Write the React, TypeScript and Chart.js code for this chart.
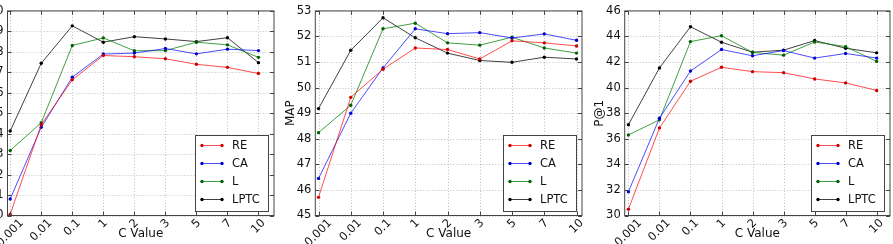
import React, { useEffect, useRef } from 'react';
import { Chart, registerables } from 'chart.js';

Chart.register(...registerables);

// Regularisation constant C on the x axis (equally spaced categories)
const cValues = ['0.001', '0.01', '0.1', '1', '2', '3', '5', '7', '10'];

const methodNames = ['RE', 'CA', 'L', 'LPTC'];
const methodLines = ['rgba(255,0,0,0.7)', 'rgba(0,0,255,0.7)', 'rgba(0,128,0,0.75)', 'rgba(0,0,0,0.75)'];
const methodMarks = ['#d00000', '#0000d0', '#006000', '#000000'];

// Left panel
const leftRE = [50.06, 54.44, 56.63, 57.82, 57.76, 57.66, 57.39, 57.24, 56.94];
const leftCA = [50.81, 54.31, 56.76, 57.89, 57.94, 58.16, 57.9, 58.13, 58.06];
const leftL = [53.18, 54.53, 58.31, 58.68, 58.05, 58.06, 58.47, 58.34, 57.73];
const leftLPTC = [54.13, 57.44, 59.27, 58.47, 58.74, 58.63, 58.5, 58.69, 57.47];

// Middle panel: MAP
const mapRE = [45.71, 49.62, 50.72, 51.55, 51.49, 51.12, 51.83, 51.75, 51.63];
const mapCA = [46.45, 49.0, 50.77, 52.3, 52.11, 52.15, 51.94, 52.1, 51.85];
const mapL = [48.24, 49.31, 52.3, 52.52, 51.75, 51.66, 51.97, 51.55, 51.35];
const mapLPTC = [49.18, 51.46, 52.73, 51.95, 51.35, 51.06, 50.99, 51.19, 51.12];

// Right panel: P@1
const p1RE = [30.49, 36.84, 40.5, 41.59, 41.25, 41.17, 40.68, 40.37, 39.78];
const p1CA = [31.86, 37.6, 41.3, 42.98, 42.49, 42.9, 42.31, 42.67, 42.31];
const p1L = [36.3, 37.48, 43.6, 44.06, 42.75, 42.54, 43.57, 43.21, 42.05];
const p1LPTC = [37.1, 41.54, 44.76, 43.55, 42.77, 42.93, 43.68, 43.08, 42.72];

const leftAxis = [50, 60, 1];
const mapAxis = [45, 53, 1];
const p1Axis = [30, 46, 2];

const FONT = '"DejaVu Sans", "Liberation Sans", sans-serif';
const PLOT_TOP = 9;
const PLOT_BOTTOM = 215.5;
const H = 244;
const Y_AXIS_W = 45;
const RIGHT_PAD = 3;
const TEXT = '#111';

type Panel = {
  key: string;
  series: number[][];
  axis: number[];
  yTitle: string;
  plotLeft: number;
  plotRight: number;
  xMin: number;
  xMax: number;
};

const panels: Panel[] = [
  { key: 'left', series: [leftRE, leftCA, leftL, leftLPTC], axis: leftAxis, yTitle: '', plotLeft: 7.5, plotRight: 275, xMin: -0.087, xMax: 8.5 },
  { key: 'map', series: [mapRE, mapCA, mapL, mapLPTC], axis: mapAxis, yTitle: 'MAP', plotLeft: 315.3, plotRight: 582.7, xMin: -0.1, xMax: 8.17 },
  { key: 'p1', series: [p1RE, p1CA, p1L, p1LPTC], axis: p1Axis, yTitle: 'P@1', plotLeft: 624.7, plotRight: 890.7, xMin: -0.12, xMax: 8.43 },
];

const SPINE = '#444';

const decorPlugin = {
  id: 'panelDecor',
  beforeDatasetsDraw(chart: any) {
    const { ctx, chartArea: a, scales } = chart;
    const x = scales.x;
    const y = scales.y;
    ctx.save();
    ctx.strokeStyle = 'rgba(0,0,0,0.25)';
    ctx.lineWidth = 1;
    ctx.setLineDash([1, 2]);
    for (let i = 0; i < cValues.length; i++) {
      const px = Math.round(x.getPixelForValue(i)) + 0.5;
      ctx.beginPath();
      ctx.moveTo(px, a.top);
      ctx.lineTo(px, a.bottom);
      ctx.stroke();
    }
    y.ticks.forEach((t: any) => {
      const py = Math.round(y.getPixelForValue(t.value)) + 0.5;
      ctx.beginPath();
      ctx.moveTo(a.left, py);
      ctx.lineTo(a.right, py);
      ctx.stroke();
    });
    ctx.restore();
  },
  afterDatasetsDraw(chart: any) {
    const { ctx, chartArea: a, scales } = chart;
    const x = scales.x;
    const y = scales.y;
    ctx.save();
    // frame
    ctx.strokeStyle = SPINE;
    ctx.lineWidth = 1;
    ctx.setLineDash([]);
    ctx.strokeRect(a.left, a.top, a.right - a.left, a.bottom - a.top);
    // inward ticks on all four sides
    const tl = 4;
    ctx.beginPath();
    for (let i = 0; i < cValues.length; i++) {
      const px = Math.round(x.getPixelForValue(i)) + 0.5;
      ctx.moveTo(px, a.bottom);
      ctx.lineTo(px, a.bottom - tl);
      ctx.moveTo(px, a.top);
      ctx.lineTo(px, a.top + tl);
    }
    y.ticks.forEach((t: any) => {
      const py = Math.round(y.getPixelForValue(t.value)) + 0.5;
      ctx.moveTo(a.left, py);
      ctx.lineTo(a.left + tl, py);
      ctx.moveTo(a.right, py);
      ctx.lineTo(a.right - tl, py);
    });
    ctx.stroke();

    // rotated category labels, centred under their ticks
    ctx.fillStyle = TEXT;
    ctx.font = `11.5px ${FONT}`;
    ctx.textAlign = 'center';
    ctx.textBaseline = 'middle';
    const capH = 8;
    cValues.forEach((lab, i) => {
      const px = x.getPixelForValue(i);
      const w = ctx.measureText(lab).width;
      const size = (w + capH) / Math.SQRT2;
      ctx.save();
      ctx.translate(px, a.bottom + 3 + size / 2);
      ctx.rotate(-Math.PI / 4);
      ctx.fillText(lab, 0, 0);
      ctx.restore();
    });
    ctx.restore();
  },
  afterDraw(chart: any) {
    const { ctx, chartArea: a } = chart;
    const bw = 73;
    const bh = 76;
    const bx = a.right - 6 - bw;
    const by = a.bottom - 5 - bh;
    ctx.save();
    ctx.fillStyle = '#fff';
    ctx.fillRect(bx, by, bw, bh);
    ctx.strokeStyle = SPINE;
    ctx.lineWidth = 1;
    ctx.strokeRect(Math.round(bx) + 0.5, Math.round(by) + 0.5, bw, bh);
    ctx.font = `11.5px ${FONT}`;
    ctx.textAlign = 'left';
    ctx.textBaseline = 'middle';
    chart.data.datasets.forEach((ds: any, i: number) => {
      const ry = by + 11 + i * 18;
      ctx.strokeStyle = ds.borderColor;
      ctx.beginPath();
      ctx.moveTo(bx + 7, ry);
      ctx.lineTo(bx + 27, ry);
      ctx.stroke();
      ctx.fillStyle = ds.pointBackgroundColor;
      [bx + 7, bx + 27].forEach((mx) => {
        ctx.beginPath();
        ctx.arc(mx, ry, 1.7, 0, Math.PI * 2);
        ctx.fill();
      });
      ctx.fillStyle = TEXT;
      ctx.fillText(ds.label, bx + 37, ry + 0.5);
    });
    ctx.restore();
  },
};

function PanelChart({ panel }: { panel: Panel }) {
  const ref = useRef<HTMLCanvasElement | null>(null);
  const canvasLeft = Math.floor(panel.plotLeft) - Y_AXIS_W;
  const yW = panel.plotLeft - canvasLeft;
  const width = Math.ceil(panel.plotRight - canvasLeft + RIGHT_PAD);

  useEffect(() => {
    if (!ref.current) return;
    const [yMin, yMax, yStep] = panel.axis;
    const chart = new Chart(ref.current, {
      type: 'line',
      data: {
        datasets: methodNames.map((name, si) => ({
          label: name,
          data: panel.series[si].map((v, i) => ({ x: i, y: v })),
          borderColor: methodLines[si],
          backgroundColor: methodMarks[si],
          pointBackgroundColor: methodMarks[si],
          pointBorderWidth: 0,
          pointRadius: 1.7,
          borderWidth: 1,
          tension: 0,
          fill: false,
        })),
      },
      options: {
        responsive: false,
        animation: false,
        events: [],
        layout: { padding: { top: PLOT_TOP, right: RIGHT_PAD, left: 0, bottom: 0 } },
        plugins: { legend: { display: false }, tooltip: { enabled: false } },
        scales: {
          x: {
            type: 'linear',
            min: panel.xMin,
            max: panel.xMax,
            grid: { display: false },
            border: { display: false },
            ticks: { display: false },
            title: {
              display: true,
              text: 'C Value',
              color: TEXT,
              font: { family: FONT, size: 12 },
              padding: { top: 0, bottom: 2.5 },
            },
            afterFit: (s: any) => {
              s.height = H - PLOT_BOTTOM;
            },
          },
          y: {
            type: 'linear',
            min: yMin,
            max: yMax,
            grid: { display: false, drawTicks: false },
            border: { display: false },
            ticks: {
              stepSize: yStep,
              padding: 4,
              color: TEXT,
              font: { family: FONT, size: 11.5 },
              callback: (v: any) => String(v),
            },
            title: {
              display: panel.yTitle !== '',
              text: panel.yTitle,
              color: TEXT,
              font: { family: FONT, size: 12 },
              padding: { top: 13.3, bottom: 0 },
            },
            afterFit: (s: any) => {
              s.width = yW;
            },
          },
        },
      },
      plugins: [decorPlugin],
    } as any);
    return () => chart.destroy();
  }, [panel, yW]);

  return (
    <canvas
      ref={ref}
      width={width}
      height={H}
      style={{ position: 'absolute', left: canvasLeft, top: 0, width, height: H }}
    />
  );
}

export default function App() {
  return (
    <div
      style={{
        position: 'fixed',
        left: 0,
        top: 0,
        width: 893,
        height: H,
        overflow: 'hidden',
        background: '#fff',
      }}
    >
      {panels.map((p) => (
        <PanelChart key={p.key} panel={p} />
      ))}
    </div>
  );
}
